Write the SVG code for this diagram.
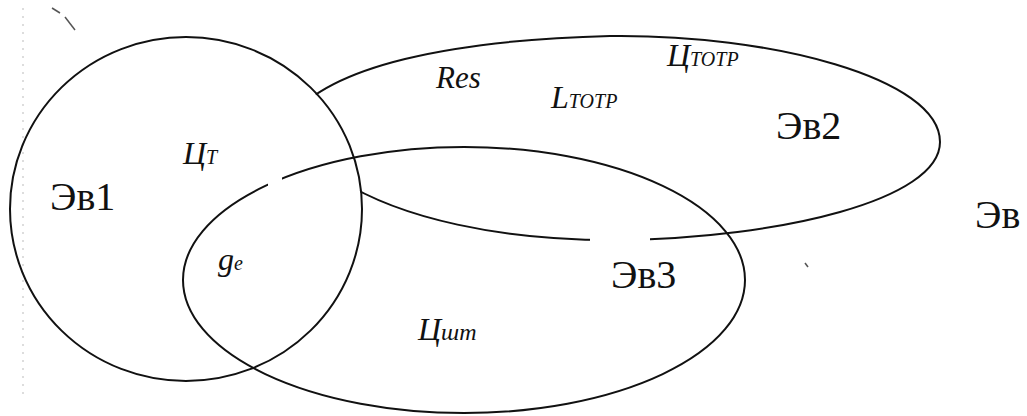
<svg xmlns="http://www.w3.org/2000/svg" width="1027" height="416" viewBox="0 0 1027 416">
<style>
.o{fill:none;stroke:#111;stroke-width:2}
.lab{font-family:"Liberation Serif","Times New Roman",serif;font-size:40px;fill:#111}
.it{font-family:"Liberation Serif","Times New Roman",serif;font-style:italic;fill:#111}
.art{fill:none;stroke:#555;stroke-width:1.5}
</style>
<defs>
<mask id="m2" maskUnits="userSpaceOnUse" x="0" y="0" width="1027" height="416">
<rect x="0" y="0" width="1027" height="416" fill="#fff"/>
<ellipse cx="186" cy="209" rx="175" ry="171" fill="#000"/>
<rect x="590" y="225" width="60" height="30" fill="#000"/>
</mask>
<mask id="m3" maskUnits="userSpaceOnUse" x="0" y="0" width="1027" height="416">
<rect x="0" y="0" width="1027" height="416" fill="#fff"/>
<rect x="268" y="165" width="14" height="35" fill="#000"/>
</mask>
</defs>
<rect width="1027" height="416" fill="#fff"/>
<g id="artifacts">
<line class="art" x1="52" y1="8" x2="60" y2="13"/>
<line class="art" x1="65" y1="17" x2="75" y2="30"/>
<line class="art" x1="805" y1="263" x2="808" y2="267"/>
<line x1="23" y1="8" x2="23" y2="400" stroke="#bbb" stroke-width="1" stroke-dasharray="2 6"/>
</g>
<g id="connectors"></g>
<g id="ev1">
<ellipse class="o" cx="186" cy="209" rx="176" ry="172"/>
<text class="lab" x="50" y="210">Эв1</text>
</g>
<g id="ev2">
<path class="o" d="M290,118 C330,66 450,40 610,36 C770,34 940,78 940,142 C940,200 780,238 620,240 C500,241 400,218 340,180" mask="url(#m2)"/>
<text class="lab" x="776" y="139" font-size="44">Эв2</text>
</g>
<g id="ev3">
<ellipse class="o" cx="464" cy="280" rx="281" ry="133" mask="url(#m3)"/>
<text class="lab" x="611" y="288">Эв3</text>
</g>
<g id="ev">
<text class="lab" x="975" y="228">Эв</text>
</g>
<g id="labels">
<text class="it" x="436" y="88" font-size="31">Res</text>
<text class="it" x="551" y="108" font-size="32">L<tspan font-size="20">TOTP</tspan></text>
<text class="it" x="667" y="66" font-size="32">Ц<tspan font-size="20">TOTP</tspan></text>
<text class="it" x="183" y="164" font-size="32">Ц<tspan font-size="20">T</tspan></text>
<text class="it" x="218" y="270" font-size="32">g<tspan font-size="20">e</tspan></text>
<text class="it" x="418" y="340" font-size="32">Ц<tspan font-size="24">шт</tspan></text>
</g>
</svg>
